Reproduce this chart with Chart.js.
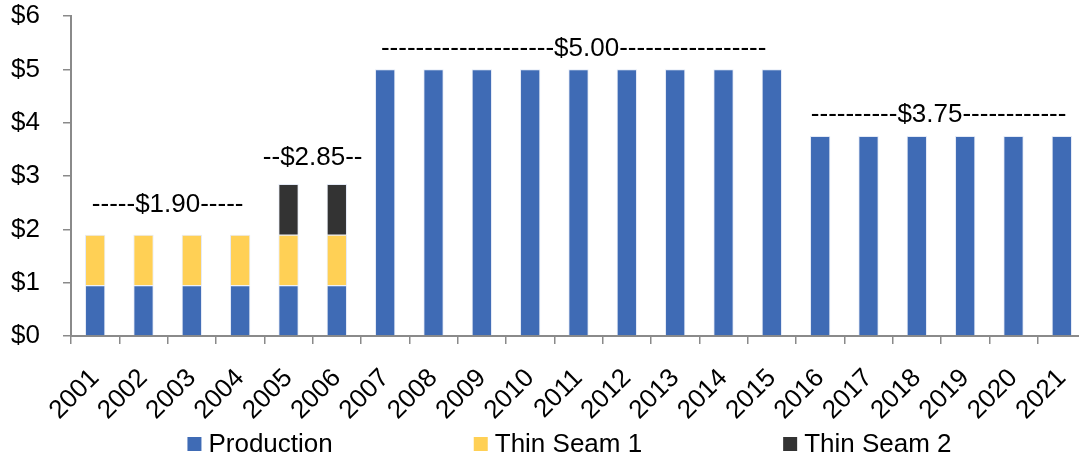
<!DOCTYPE html>
<html>
<head>
<meta charset="utf-8">
<script src="https://cdn.jsdelivr.net/npm/chart.js@4/dist/chart.umd.min.js"></script>
<style>
  html, body { margin: 0; padding: 0; overflow: hidden; background: #fff; }
  #wrap { width: 1090px; height: 458px; }
</style>
</head>
<body>
<div id="wrap"><canvas id="chart" width="1090" height="458"></canvas></div>
<script>
const years = ['2001','2002','2003','2004','2005','2006','2007','2008','2009','2010','2011',
               '2012','2013','2014','2015','2016','2017','2018','2019','2020','2021'];
const production = [0.95,0.95,0.95,0.95,0.95,0.95,5,5,5,5,5,5,5,5,5,3.75,3.75,3.75,3.75,3.75,3.75];
const thinSeam1  = [0.95,0.95,0.95,0.95,0.95,0.95,null,null,null,null,null,null,null,null,null,null,null,null,null,null,null];
const thinSeam2  = [null,null,null,null,0.95,0.95,null,null,null,null,null,null,null,null,null,null,null,null,null,null,null];
const seriesNames = ['Production', 'Thin Seam 1', 'Thin Seam 2'];
const yTicks = [0, 1, 2, 3, 4, 5, 6];
// period labels: text, centre (category index), level of the text baseline (axis units)
const periodText  = ['-----$1.90-----', '--$2.85--', '--------------------$5.00-----------------', '----------$3.75------------'];
const periodIndex = [1.5, 4.5, 9.9, 17.45];
const periodLevel = [2.33, 3.21, 5.25, 4.02];

const FONT = 'Liberation Sans, Arial, sans-serif';
const AXIS = '#8a8a8a';

const periodPlugin = {
    id: 'periods',
    afterDatasetsDraw(chart) {
        const ctx = chart.ctx, x = chart.scales.x, y = chart.scales.y;
        ctx.save();
        ctx.font = '26px ' + FONT; ctx.fillStyle = '#000';
        ctx.textAlign = 'center'; ctx.textBaseline = 'alphabetic';
        periodText.forEach((t, i) => {
            ctx.fillText(t, x.getPixelForValue(periodIndex[i]), y.getPixelForValue(periodLevel[i]));
        });
        ctx.restore();
    }
};

const legendPlugin = {
    id: 'bottomLegend',
    afterDraw(chart) {
        const ctx = chart.ctx, ds = chart.data.datasets, gap = 141, box = 14, space = 7;
        ctx.save();
        ctx.font = '26px ' + FONT; ctx.textBaseline = 'middle';
        const widths = ds.map(d => box + space + ctx.measureText(d.label).width);
        const total = widths.reduce((a, b) => a + b, 0) + gap * (ds.length - 1);
        let cx = (chart.chartArea.left + chart.chartArea.right) / 2 - total / 2 - 9;
        const cy = 444;
        ds.forEach((d, i) => {
            ctx.fillStyle = d.backgroundColor;
            ctx.fillRect(cx, cy - box / 2, box, box);
            ctx.fillStyle = '#000';
            ctx.fillText(d.label, cx + box + space, cy + 1);
            cx += widths[i] + gap;
        });
        ctx.restore();
    }
};

new Chart(document.getElementById('chart'), {
    type: 'bar',
    data: {
        labels: years,
        datasets: [
            { label: seriesNames[0], data: production, backgroundColor: '#3f6bb5' },
            { label: seriesNames[1], data: thinSeam1, backgroundColor: '#ffd055' },
            { label: seriesNames[2], data: thinSeam2, backgroundColor: '#333333' }
        ].map(d => Object.assign(d, { borderColor: 'rgba(225,232,245,0.9)', borderWidth: 1, barPercentage: 0.42, categoryPercentage: 1 }))
    },
    options: {
        responsive: false,
        animation: false,
        layout: { padding: { top: 16, right: 4, left: 0, bottom: 0 } },
        plugins: { legend: { display: false }, tooltip: { enabled: false } },
        scales: {
            x: {
                stacked: true,
                border: { color: AXIS, width: 2 },
                grid: { drawOnChartArea: false, color: AXIS, tickLength: 8, lineWidth: 1.5 },
                ticks: { color: '#000', font: { family: FONT, size: 26 }, minRotation: 45, maxRotation: 45, autoSkip: false, padding: 19 },
                afterFit(s) { s.height = 122; s.paddingLeft = 0; s.paddingRight = 0; }
            },
            y: {
                stacked: true, min: 0, max: 6,
                afterBuildTicks(s) { s.ticks = yTicks.map(v => ({ value: v })); },
                border: { color: AXIS, width: 2 },
                grid: { drawOnChartArea: false, color: AXIS, tickLength: 8, lineWidth: 1.5 },
                ticks: { color: '#000', font: { family: FONT, size: 26 }, padding: 23, callback: v => '$' + v },
                afterFit(s) { s.width = 71; s.paddingTop = 0; s.paddingBottom = 0; }
            }
        }
    },
    plugins: [periodPlugin, legendPlugin]
});
</script>
</body>
</html>
